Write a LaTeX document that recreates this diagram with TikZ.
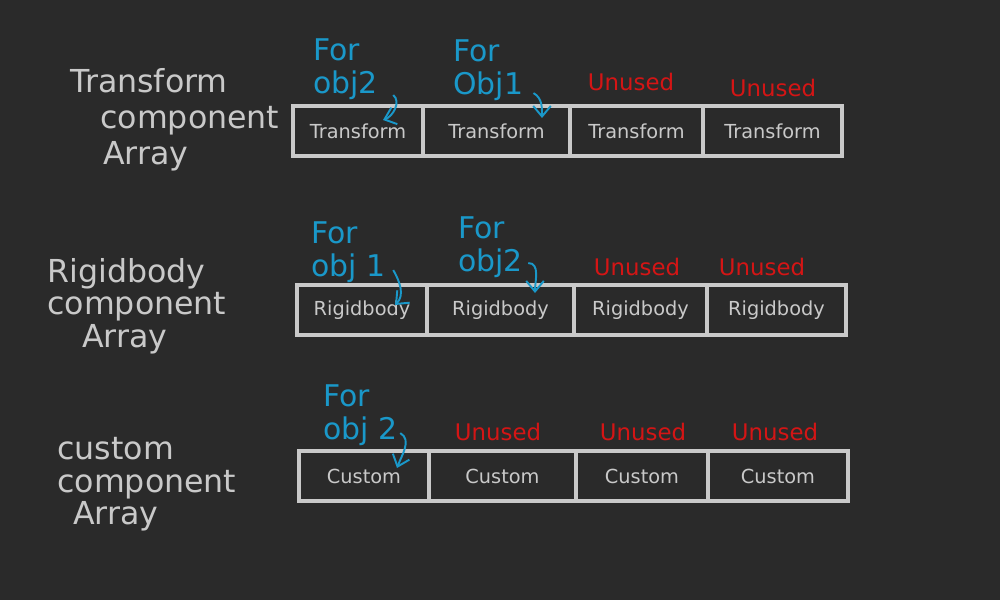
\documentclass[tikz,border=0pt]{standalone}
\usepackage{fontspec}
\setmainfont{DejaVu Sans}
\usepackage{xcolor}
\usepackage{tikz}
\definecolor{bgdark}{HTML}{2A2A2A}
\definecolor{chalk}{HTML}{C9C9C9}
\definecolor{markerblue}{HTML}{1A98C9}
\definecolor{markerred}{HTML}{D41515}
\usetikzlibrary{positioning, arrows.meta}

\begin{document}
\begin{tikzpicture}[
    cell/.style={draw=chalk, line width=2pt, fill=bgdark, text=chalk, minimum height=1cm, inner sep=0pt, outer sep=0pt, font=\fontsize{11}{13}\selectfont},
    title/.style={text=chalk, anchor=north west, align=left, inner sep=0pt, font=\fontsize{18}{18.5}\selectfont},
    note/.style={text=markerblue, anchor=west, align=left, inner sep=0pt, font=\fontsize{17}{19}\selectfont},
    unused/.style={text=markerred, inner sep=0pt, font=\fontsize{13}{15}\selectfont},
    pointer/.style={markerblue, line width=1.1pt, -{Straight Barb[length=6pt, width=10pt]}}
]
    % Background
    \fill[bgdark] (0,0) rectangle (20,12);

    % Transform array
    \node[title, font=\fontsize{18}{20.5}\selectfont] (ttitle) at (1.4, 10.64) {Transform\\\hspace*{0.6cm}component\\\hspace*{0.66cm}Array};
    \node[cell, minimum width=2.6cm] (t1) at (7.16, 9.38) {Transform};
    \node[cell, minimum width=2.94cm, right=0pt of t1] (t2) {Transform};
    \node[cell, minimum width=2.66cm, right=0pt of t2] (t3) {Transform};
    \node[cell, minimum width=2.78cm, right=0pt of t3] (t4) {Transform};

    \node[note] (tfor1) at (6.26, 10.62) {For\\obj2};
    \node[note] (tfor2) at (9.06, 10.6) {For\\Obj1};
    \node[unused] (tfree1) at (12.62, 10.36) {Unused};
    \node[unused] (tfree2) at (15.46, 10.24) {Unused};

    \draw[pointer] ([xshift=0.3cm,yshift=0.1cm]tfor1.south east) to[out=-40, in=20] ([xshift=-0.8cm,yshift=-0.28cm]t1.north east);
    \draw[pointer] ([xshift=0.2cm,yshift=0.16cm]tfor2.south east) to[out=-30, in=90] ([xshift=-0.56cm,yshift=-0.24cm]t2.north east);

    % Rigidbody array
    \node[title] (rtitle) at (0.94, 6.84) {Rigidbody\\component\\\hspace*{0.7cm}Array};
    \node[cell, minimum width=2.6cm] (r1) at (7.24, 5.8) {Rigidbody};
    \node[cell, minimum width=2.94cm, right=0pt of r1] (r2) {Rigidbody};
    \node[cell, minimum width=2.66cm, right=0pt of r2] (r3) {Rigidbody};
    \node[cell, minimum width=2.78cm, right=0pt of r3] (r4) {Rigidbody};

    \node[note] (rfor1) at (6.22, 6.96) {For\\obj 1};
    \node[note] (rfor2) at (9.16, 7.06) {For\\obj2};
    \node[unused] (rfree1) at (12.74, 6.66) {Unused};
    \node[unused] (rfree2) at (15.24, 6.66) {Unused};

    \draw[pointer] ([xshift=0.15cm,yshift=0.26cm]rfor1.south east) to[out=-60, in=45] ([xshift=-0.64cm,yshift=-0.4cm]r1.north east);
    \draw[pointer] ([xshift=0.1cm,yshift=0.3cm]rfor2.south east) to[out=0, in=90] ([xshift=-0.78cm,yshift=-0.16cm]r2.north east);

    % Custom array
    \node[title] (ctitle) at (1.14, 3.26) {custom\\component\\\hspace*{0.32cm}Array};
    \node[cell, minimum width=2.6cm] (c1) at (7.28, 2.48) {Custom};
    \node[cell, minimum width=2.94cm, right=0pt of c1] (c2) {Custom};
    \node[cell, minimum width=2.64cm, right=0pt of c2] (c3) {Custom};
    \node[cell, minimum width=2.8cm, right=0pt of c3] (c4) {Custom};

    \node[note] (cfor1) at (6.46, 3.7) {For\\obj 2};
    \node[unused] (cfree1) at (9.96, 3.36) {Unused};
    \node[unused] (cfree2) at (12.86, 3.36) {Unused};
    \node[unused] (cfree3) at (15.5, 3.36) {Unused};

    \draw[pointer] ([xshift=0.05cm,yshift=0.26cm]cfor1.south east) to[out=-30, in=70] ([xshift=-0.64cm,yshift=-0.34cm]c1.north east);
\end{tikzpicture}
\end{document}
